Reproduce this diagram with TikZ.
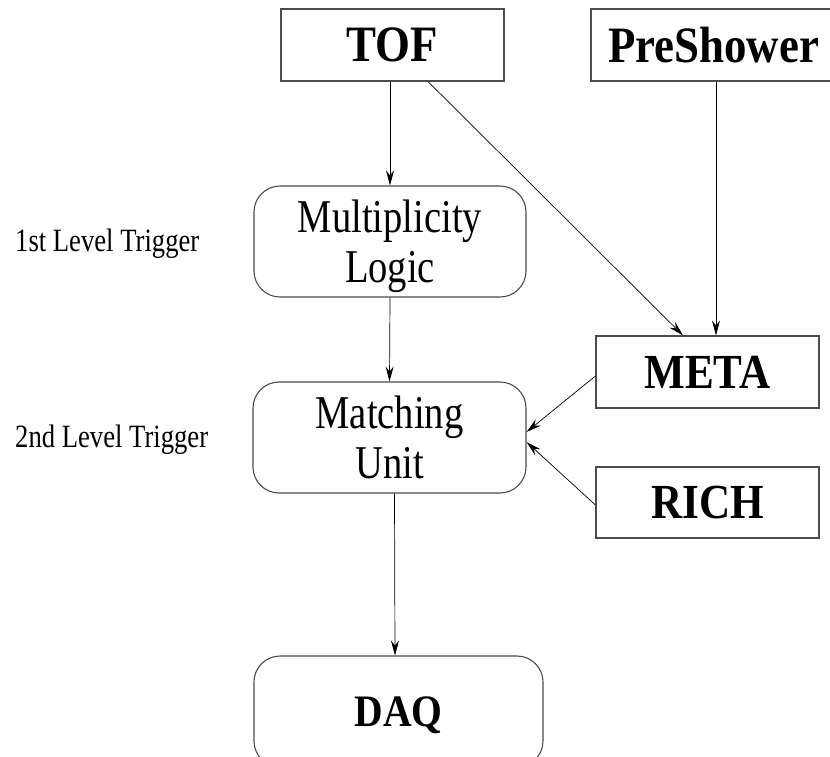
\documentclass[tikz,border=0pt]{standalone}
\usepackage{fontspec}
\setmainfont[FakeStretch=0.82, BoldFeatures={FakeStretch=0.88}]{Liberation Serif}
\usetikzlibrary{arrows.meta}
\tikzset{
  det/.style={draw=black!70, line width=1.1pt, inner sep=0pt, font=\bfseries\fontsize{49}{52}\selectfont},
  unit/.style={draw=black!70, line width=1.1pt, rounded corners=26pt, inner sep=0pt, align=center, text depth=0pt, font=\fontsize{47}{50}\selectfont},
  lvl/.style={anchor=base west, inner sep=0pt, font=\fontsize{32.5}{34}\selectfont},
  arr/.style={line width=0.7pt, -{Stealth[length=15pt, width=8pt, inset=5pt]}}
}
\begin{document}
\begin{tikzpicture}[x=1pt, y=-1pt]
  \useasboundingbox (0,0) rectangle (830,756);
  \node[det, font=\bfseries\fontsize{51}{54}\selectfont, minimum width=223pt, minimum height=72pt] (tof) at (392.5,45) {TOF};
  \node[det, font=\bfseries\fontsize{51}{54}\selectfont, minimum width=260pt, minimum height=72pt, text width=226pt] (pre) at (721,45) {PreShower};
  \node[unit, minimum width=272pt, minimum height=111pt] (mult) at (390,241.5) {Multiplicity\\Logic};
  \node[unit, minimum width=273pt, minimum height=111pt] (match) at (389.5,437.5) {Matching\\Unit};
  \node[det, minimum width=223pt, minimum height=72pt] (meta) at (707.5,372) {META};
  \node[det, minimum width=223pt, minimum height=71pt] (rich) at (707.5,502.5) {RICH};
  \node[det, unit, font=\bfseries\fontsize{45}{50}\selectfont, minimum width=289pt, minimum height=111pt] (daq) at (398.5,711.5) {DAQ};
  \node[lvl] (l1) at (15,251) {1st Level Trigger};
  \node[lvl] (l2) at (15,447) {2nd Level Trigger};
  \draw[arr] (mult.north |- tof.south) -- (mult.north);
  \draw[arr] ([xshift=35.5pt]tof.south) -- ([xshift=-24.5pt]meta.north);
  \draw[arr] ([xshift=8.5pt]meta.north |- pre.south) -- ([xshift=8.5pt]meta.north);
  \draw[arr] (mult.south) -- (match.north);
  \draw[arr] ([yshift=-4pt]meta.west) -- ([yshift=5.5pt]match.east);
  \draw[arr] ([yshift=-2.5pt]rich.west) -- ([yshift=-4.5pt]match.east);
  \draw[arr] ([xshift=5pt]match.south) -- ([xshift=-3.5pt]daq.north);
\end{tikzpicture}
\end{document}
